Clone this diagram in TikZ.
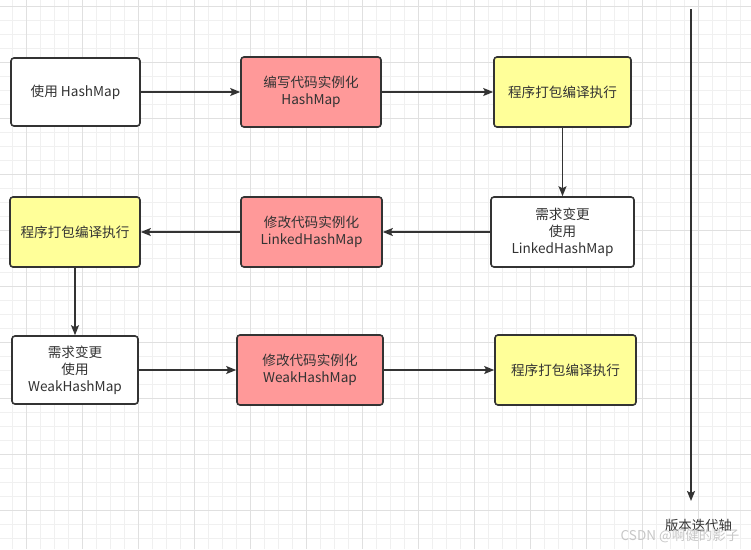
\documentclass[tikz,border=0pt]{standalone}
\usepackage{fontspec}
\setmainfont{Noto Sans CJK SC}
\usetikzlibrary{arrows.meta}
\definecolor{txt}{HTML}{333333}
\definecolor{redfill}{HTML}{FF9999}
\definecolor{yelfill}{HTML}{FFFF99}
\definecolor{gridminor}{HTML}{F0F0F0}
\definecolor{gridmajor}{HTML}{E0E0E0}
\tikzset{
  box/.style={draw=txt, line width=1.6pt, rounded corners=3pt, align=center, text=txt,
    font=\fontsize{13.6}{17}\selectfont, inner sep=0pt},
  whitebox/.style={box, fill=white},
  redbox/.style={box, fill=redfill},
  yelbox/.style={box, fill=yelfill},
  conn/.style={draw=txt, line width=1.5pt, -{Stealth[length=10pt,width=8pt,inset=2pt]}},
}
\begin{document}
\begin{tikzpicture}[x=1pt,y=-1pt]
\useasboundingbox (0,0) rectangle (751,549);
\fill[white] (0,0) rectangle (751,549);
% grid
\foreach \i in {0,...,53} \draw[gridminor, line width=0.9pt] (12.7+14*\i,0) -- (12.7+14*\i,549);
\foreach \i in {0,...,39} \draw[gridminor, line width=0.9pt] (0,6.7+14*\i) -- (751,6.7+14*\i);
\foreach \i in {0,...,13} \draw[gridmajor, line width=0.9pt] (26.7+56*\i,0) -- (26.7+56*\i,549);
\foreach \i in {0,...,9} \draw[gridmajor, line width=0.9pt] (0,6.7+56*\i) -- (751,6.7+56*\i);

% row 1
\node[whitebox, minimum width=129pt, minimum height=68pt] (b1) at (75.5,92) {使用 HashMap};
\node[redbox, minimum width=140pt, minimum height=70pt] (b2) at (311,92) {编写代码实例化\\HashMap};
\node[yelbox, minimum width=137pt, minimum height=70pt] (b3) at (562.5,92) {程序打包编译执行};
% row 2
\node[whitebox, minimum width=143pt, minimum height=70pt] (b4) at (562.5,232) {需求变更\\使用\\LinkedHashMap};
\node[redbox, minimum width=141pt, minimum height=70pt] (b5) at (311.5,232) {修改代码实例化\\LinkedHashMap};
\node[yelbox, minimum width=130pt, minimum height=70pt] (b6) at (75,232) {程序打包编译执行};
% row 3
\node[whitebox, minimum width=126pt, minimum height=68pt] (b7) at (75,370) {需求变更\\使用\\WeakHashMap};
\node[redbox, minimum width=146pt, minimum height=70pt] (b8) at (310,370) {修改代码实例化\\WeakHashMap};
\node[yelbox, minimum width=141pt, minimum height=70pt] (b9) at (565.5,370) {程序打包编译执行};

% connectors
\draw[conn] (b1) -- (b2);
\draw[conn] (b2) -- (b3);
\draw[conn] (b3.south) -- (b4.north);
\draw[conn] (b4) -- (b5);
\draw[conn] (b5) -- (b6);
\draw[conn] (b6.south) -- (b7.north);
\draw[conn] (b7) -- (b8);
\draw[conn] (b8) -- (b9);

% version axis
\coordinate (ax1) at (691,9);
\coordinate (ax2) at (691,501);
\draw[conn] (ax1) -- (ax2);
\node[text=txt, font=\fontsize{13.4}{16}\selectfont, inner sep=0pt] (axlabel) at (698.5,525) {版本迭代轴};

% watermark
\node[text=black!22, font=\fontsize{13.5}{15}\selectfont, inner sep=0pt] (wm) at (680,536) {CSDN @啊健的影子};
\end{tikzpicture}
\end{document}
